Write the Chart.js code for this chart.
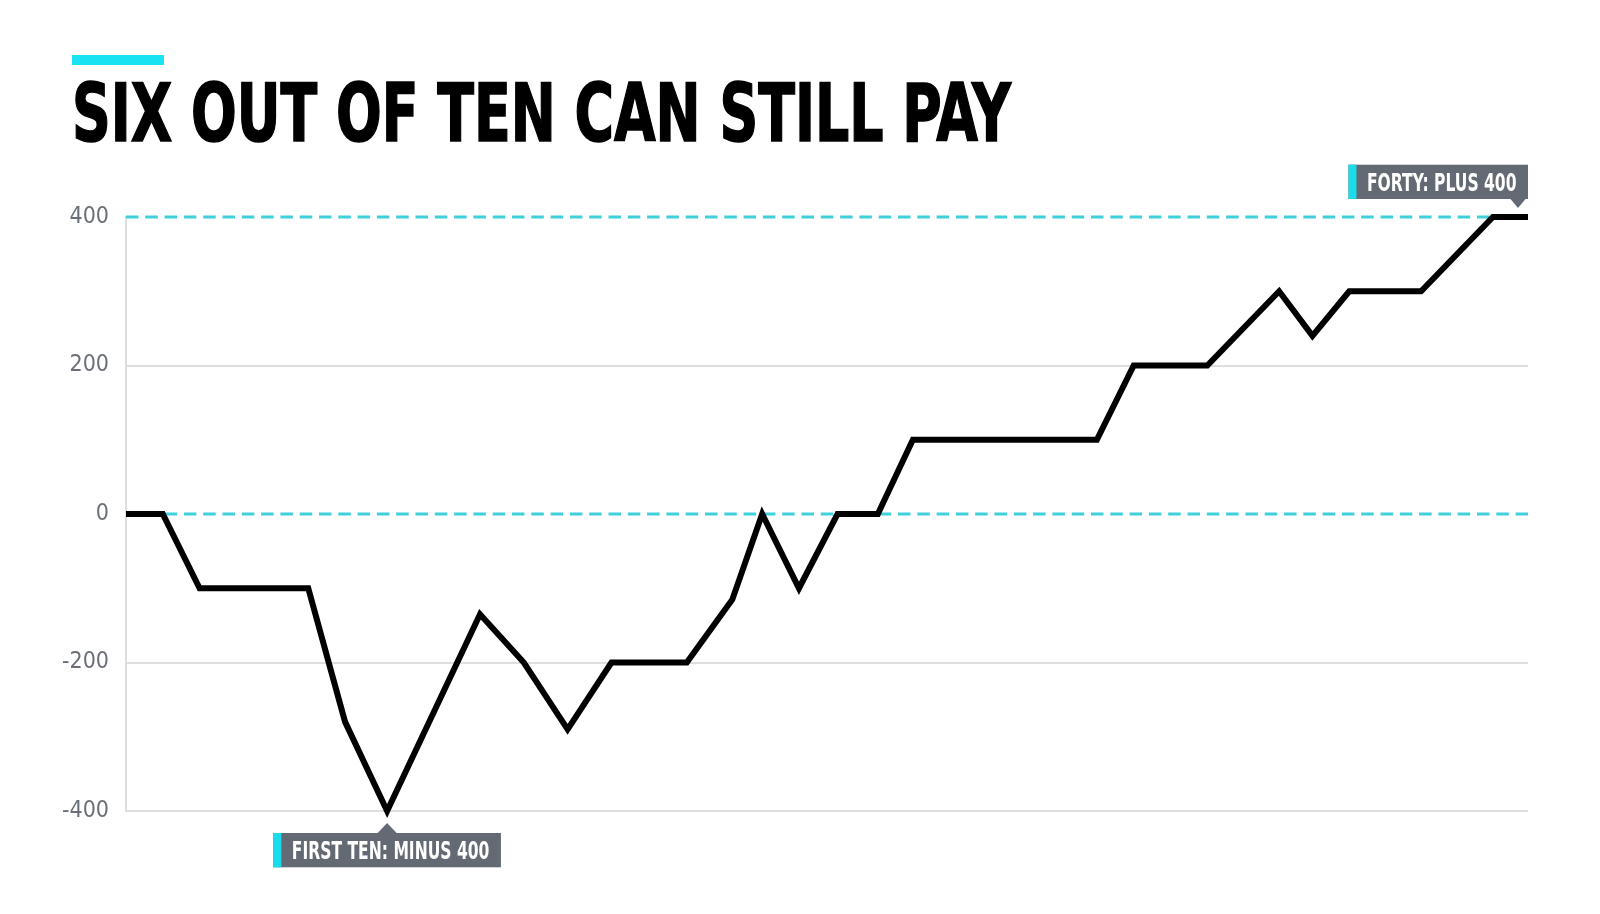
<!DOCTYPE html>
<html>
<head>
<meta charset="utf-8">
<script src="https://cdn.jsdelivr.net/npm/chart.js@4.4.1/dist/chart.umd.min.js"></script>
<style>
  html, body { margin: 0; padding: 0; background: #ffffff; }
  body { width: 1600px; height: 914px; position: relative; overflow: hidden; }
  #bar { position: absolute; left: 72px; top: 55px; width: 92px; height: 10px; background: #19e3f2; }
  #title { position: absolute; left: 72px; white-space: nowrap; color: #000; font-weight: bold;
           transform-origin: 0 0; -webkit-text-stroke: 1.5px #000; }
  #chart { position: absolute; left: 0; top: 0; }
</style>
</head>
<body>
<div id="bar"></div>
<div id="title"></div>
<canvas id="chart" width="1600" height="914"></canvas>
<script>
// ---------------- data ----------------
const titleText = 'SIX OUT OF TEN CAN STILL PAY';
// position of each vertex along the (hidden) horizontal axis, 0..40
const xPositions = [0, 1.05, 2.1, 5.2, 6.25, 7.45, 10.1, 11.35, 12.6, 13.85, 16.0, 17.3, 18.15,
                    19.2, 20.3, 21.45, 22.45, 27.7, 28.75, 30.85, 32.9, 33.85, 34.9, 36.95, 39.0, 40];
const balance = [0, 0, -100, -100, -280, -400, -135, -200, -290, -200, -200, -115, 0,
                 -100, 0, 0, 100, 100, 200, 200, 300, 240, 300, 300, 400, 400];
const yTicks = [-400, -200, 0, 200, 400];
const refLines = [0, 400];
const annotationTexts = ['FIRST TEN: MINUS 400', 'FORTY: PLUS 400'];
const annotationIndex = [5, 25];
const annotationSide = ['below', 'above'];

// ---------------- styling ----------------
const FONT = '"Liberation Sans Narrow", "Arial Narrow", "DejaVu Sans Condensed", "Roboto", sans-serif';

// Title: size to cap-height 60px, baseline at 140.7, width 936
(function () {
  const el = document.getElementById('title');
  const c = document.createElement('canvas').getContext('2d');
  let size = 84;
  c.font = `bold ${size}px ${FONT}`;
  let m = c.measureText(titleText);
  size = size * 60 / m.actualBoundingBoxAscent;
  c.font = `bold ${size}px ${FONT}`;
  m = c.measureText(titleText);
  const asc = m.fontBoundingBoxAscent, desc = m.fontBoundingBoxDescent;
  el.textContent = titleText;
  el.style.fontFamily = FONT;
  el.style.fontSize = size + 'px';
  el.style.lineHeight = (asc + desc) + 'px';
  el.style.top = (140.7 - asc) + 'px';
  const w = m.actualBoundingBoxLeft + m.actualBoundingBoxRight;
  el.style.transform = `scaleX(${936 / w})`;
})();

const refLinePlugin = {
  id: 'refLines',
  beforeDatasetsDraw(chart) {
    const { ctx, chartArea, scales } = chart;
    ctx.save();
    ctx.strokeStyle = '#3fd0dc';
    ctx.lineWidth = 3;
    ctx.setLineDash([12.5, 6.8]);
    refLines.forEach(v => {
      const y = scales.y.getPixelForValue(v);
      ctx.beginPath();
      ctx.moveTo(chartArea.left, y);
      ctx.lineTo(chartArea.right, y);
      ctx.stroke();
    });
    ctx.restore();
  }
};

const calloutPlugin = {
  id: 'callouts',
  afterDatasetsDraw(chart) {
    const { ctx, scales } = chart;
    ctx.save();
    const fsize = 24;
    ctx.font = `bold ${fsize}px ${FONT}`;
    const ref = ctx.measureText(annotationTexts[0]);
    const sx = 197.6 / ref.width;
    const capH = ctx.measureText('H').actualBoundingBoxAscent;
    const boxH = 34.3, strip = 8, padL = 10.5, padR = 11.5;
    annotationTexts.forEach((txt, k) => {
      const i = annotationIndex[k];
      const px = scales.x.getPixelForValue(xPositions[i]);
      const py = scales.y.getPixelForValue(balance[i]);
      const tw = ctx.measureText(txt).width * sx;
      const bw = strip + padL + tw + padR;
      let bx, by, tipX, tipY, baseY, half, th;
      if (annotationSide[k] === 'below') {
        bx = px - bw / 2;
        tipX = px; tipY = py + 12; th = 10; half = 9.5;
        by = tipY + th; baseY = by;
      } else {
        bx = px - bw;
        tipX = px - 10; tipY = py - 9; th = 9; half = 7.5;
        by = tipY - th - boxH; baseY = by + boxH;
      }
      ctx.fillStyle = '#646a74';
      ctx.fillRect(bx, by, bw, boxH);
      ctx.beginPath();
      ctx.moveTo(tipX - half, baseY);
      ctx.lineTo(tipX + half, baseY);
      ctx.lineTo(tipX, tipY);
      ctx.closePath();
      ctx.fill();
      ctx.fillStyle = '#1adcec';
      ctx.fillRect(bx, by, strip, boxH);
      ctx.fillStyle = '#ffffff';
      ctx.textBaseline = 'alphabetic';
      ctx.textAlign = 'left';
      ctx.save();
      ctx.translate(bx + strip + padL, by + boxH / 2 + capH / 2);
      ctx.scale(sx, 1);
      ctx.fillText(txt, 0, 0);
      ctx.restore();
    });
    ctx.restore();
  }
};

new Chart(document.getElementById('chart'), {
  type: 'line',
  data: {
    datasets: [{
      data: xPositions.map((x, i) => ({ x: x, y: balance[i] })),
      borderColor: '#000000',
      borderWidth: 6,
      borderJoinStyle: 'miter',
      borderCapStyle: 'butt',
      pointRadius: 0,
      tension: 0,
      fill: false,
      clip: false
    }]
  },
  options: {
    responsive: false,
    animation: false,
    maintainAspectRatio: false,
    layout: { padding: { top: 217, right: 72, bottom: 103, left: 0 } },
    plugins: { legend: { display: false }, tooltip: { enabled: false }, title: { display: false } },
    scales: {
      x: { type: 'linear', min: 0, max: 40, display: false },
      y: {
        type: 'linear', min: -400, max: 400,
        afterBuildTicks: s => { s.ticks = yTicks.map(v => ({ value: v })); },
        afterFit: s => { s.width = 126; },
        ticks: { color: '#6b6f78', font: { family: FONT, size: 23 }, padding: 17 },
        grid: {
          drawTicks: false,
          lineWidth: 2,
          color: c => refLines.includes(c.tick && c.tick.value) ? 'rgba(0,0,0,0)' : '#dedede'
        },
        border: { color: '#dedede', width: 2 }
      }
    }
  },
  plugins: [refLinePlugin, calloutPlugin]
});
</script>
</body>
</html>
